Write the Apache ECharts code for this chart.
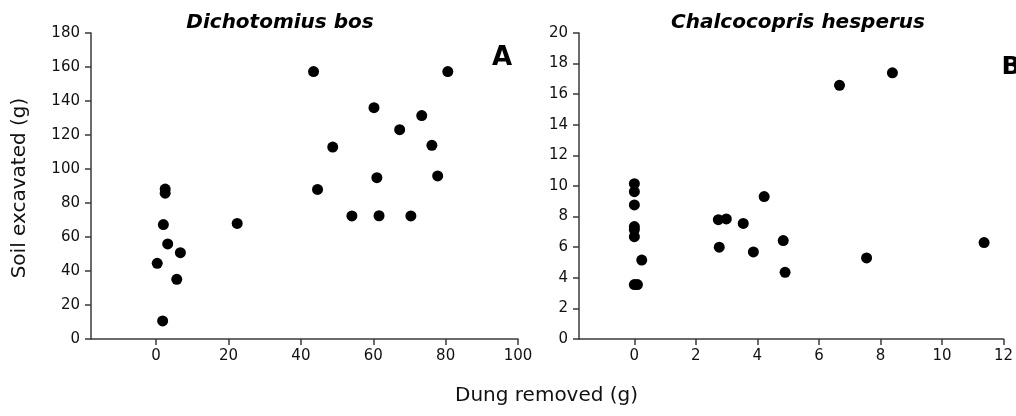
<!DOCTYPE html>
<html>
<head>
<meta charset="utf-8">
<script src="https://cdn.jsdelivr.net/npm/echarts@6/dist/echarts.min.js"></script>
<style>
  html, body { margin: 0; padding: 0; background: #fff; }
  #chart { width: 1016px; height: 416px; }
</style>
</head>
<body>
<div id="chart"></div>
<script>
// panel A: Dichotomius bos
const dungA = [43.5, 80.6, 60.2, 73.4, 67.3, 48.8, 76.2, 61.0, 77.8, 44.6, 2.5, 2.5, 54.1, 61.6, 70.4, 22.4, 2.0, 3.2, 6.7, 0.3, 5.7, 1.8]
const soilA = [157.3, 157.3, 136.1, 131.4, 123.1, 112.9, 113.9, 94.9, 95.9, 88.0, 88.2, 85.8, 72.4, 72.5, 72.4, 68.0, 67.3, 55.9, 50.8, 44.5, 35.1, 10.6]
// panel B: Chalcocopris hesperus
const dungB = [0, 0, 0, 0, 0, 0, 0, 0.1, 0.24, 2.73, 2.99, 3.54, 4.22, 2.76, 3.87, 4.84, 4.9, 7.55, 11.37, 6.67, 8.39]
const soilB = [10.15, 9.63, 8.76, 7.35, 7.15, 6.69, 3.56, 3.56, 5.16, 7.8, 7.85, 7.55, 9.31, 6.0, 5.69, 6.43, 4.36, 5.3, 6.3, 16.58, 17.4]
const ticksA = [0, 20, 40, 60, 80, 100]
const ticksB = [0, 2, 4, 6, 8, 10, 12]

const font = 'DejaVu Sans'
const lineCol = '#3a3a3a'

function pairs (xs, ys) {
  return xs.map((x, i) => [x, ys[i]])
}

function xAxisOpt (idx, min, max, ticks) {
  return {
    type: 'value',
    gridIndex: idx,
    min: min,
    max: max,
    axisLine: { show: true, onZero: false, lineStyle: { color: lineCol, width: 1.5 } },
    axisTick: { show: true, length: 6, customValues: ticks, lineStyle: { color: lineCol, width: 1.5 } },
    axisLabel: { customValues: ticks, margin: 10, color: '#111', fontSize: 15, fontFamily: font },
    splitLine: { show: false }
  }
}

function yAxisOpt (idx, max, step) {
  return {
    type: 'value',
    gridIndex: idx,
    min: 0,
    max: max,
    interval: step,
    axisLine: { show: true, onZero: false, lineStyle: { color: lineCol, width: 1.5 } },
    axisTick: { show: true, length: 6, lineStyle: { color: lineCol, width: 1.5 } },
    axisLabel: { margin: 11, color: '#111', fontSize: 15, fontFamily: font },
    splitLine: { show: false }
  }
}

const myChart = echarts.init(document.getElementById('chart'))
const option = {
  backgroundColor: '#fff',
  animation: false,
  textStyle: { fontFamily: font },
  title: [
    { text: 'Dichotomius bos', left: 275, top: 8, textAlign: 'center',
      textStyle: { fontSize: 20, fontWeight: 'bold', fontStyle: 'italic', color: '#000', fontFamily: font } },
    { text: 'Chalcocopris hesperus', left: 793, top: 8, textAlign: 'center',
      textStyle: { fontSize: 20, fontWeight: 'bold', fontStyle: 'italic', color: '#000', fontFamily: font } },
    { text: 'A', left: 497, top: 40, textAlign: 'center',
      textStyle: { fontSize: 26, fontWeight: 'bold', color: '#000', fontFamily: font } },
    { text: 'B', left: 1006, top: 50, textAlign: 'center',
      textStyle: { fontSize: 25, fontWeight: 'bold', color: '#000', fontFamily: font } }
  ],
  graphic: [
    { type: 'text', left: 455, top: 386,
      style: { text: 'Dung removed (g)', fontSize: 20, fontFamily: font, fill: '#111' } },
    { type: 'text', x: 20, y: 188, rotation: Math.PI / 2,
      style: { text: 'Soil excavated (g)', fontSize: 20, fontFamily: font, fill: '#111', align: 'center', verticalAlign: 'middle' } }
  ],
  grid: [
    { left: 91, top: 33, width: 427, height: 306 },
    { left: 579, top: 33, width: 427, height: 306 }
  ],
  xAxis: [
    xAxisOpt(0, -18, 100, ticksA),
    xAxisOpt(1, -1.8, 12, ticksB)
  ],
  yAxis: [
    yAxisOpt(0, 180, 20),
    yAxisOpt(1, 20, 2)
  ],
  series: [
    { type: 'scatter', xAxisIndex: 0, yAxisIndex: 0, symbolSize: 11,
      itemStyle: { color: '#000', opacity: 1 }, data: pairs(dungA, soilA) },
    { type: 'scatter', xAxisIndex: 1, yAxisIndex: 1, symbolSize: 11,
      itemStyle: { color: '#000', opacity: 1 }, data: pairs(dungB, soilB) }
  ]
}
option && myChart.setOption(option)
</script>
</body>
</html>
